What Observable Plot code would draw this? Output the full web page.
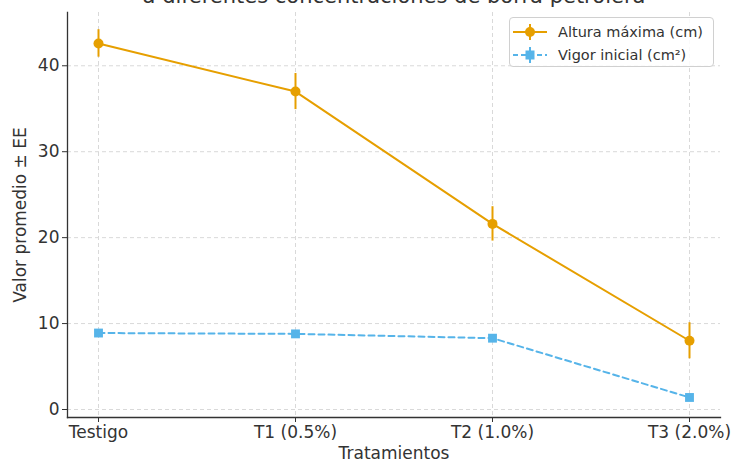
<!DOCTYPE html>
<html>
<head>
<meta charset="utf-8">
<script src="https://cdn.jsdelivr.net/npm/d3@7"></script>
<script src="https://cdn.jsdelivr.net/npm/@observablehq/plot@0.6"></script>
<style>
  html, body { margin: 0; padding: 0; background: #fff; }
  #wrap { position: relative; width: 737px; height: 461px; overflow: hidden; font-family: "DejaVu Sans", sans-serif; }
  #legend { position: absolute; left: 509px; top: 17px; width: 205px; height: 50px; border: 1px solid #d0d0d0; border-radius: 4px; background: rgba(255,255,255,0.85); box-sizing: border-box; }
  .row { position: absolute; left: 3px; height: 20px; display: flex; align-items: center; font-size: 14.5px; color: #333; white-space: nowrap; }
  .row svg { margin-right: 11px; }
</style>
</head>
<body>
<div id="wrap"><div id="legend"></div></div>
<script>
const categories = ["Testigo", "T1 (0.5%)", "T2 (1.0%)", "T3 (2.0%)"];
const alturaMean = [42.6, 37.0, 21.6, 8.0];
const alturaSE = [1.6, 2.1, 2.0, 2.1];
const vigorMean = [8.9, 8.8, 8.3, 1.4];
const vigorSE = [0.2, 0.2, 0.2, 0.15];
const seriesNames = ["Altura máxima (cm)", "Vigor inicial (cm²)"];
const titleLines = ["a diferentes concentraciones de borra petrolera"];
const yTicks = [0, 10, 20, 30, 40];

const orange = "#E69F00";
const blue = "#56B4E9";

const altura = categories.map((c, i) => ({cat: c, mean: alturaMean[i], lo: alturaMean[i] - alturaSE[i], hi: alturaMean[i] + alturaSE[i]}));
const vigor = categories.map((c, i) => ({cat: c, mean: vigorMean[i], lo: vigorMean[i] - vigorSE[i], hi: vigorMean[i] + vigorSE[i]}));

const chart = Plot.plot({
  width: 737,
  height: 461,
  marginTop: 12,
  marginBottom: 44,
  marginLeft: 67,
  marginRight: 17,
  style: {fontFamily: "DejaVu Sans, sans-serif", fontSize: "17px", color: "#333", background: "transparent", overflow: "visible"},
  x: {type: "point", domain: categories, padding: 0.15},
  y: {domain: [-0.93, 46.2]},
  marks: [
    Plot.gridX({stroke: "#d9d9d9", strokeOpacity: 1, strokeDasharray: "4,3", strokeWidth: 1}),
    Plot.gridY({ticks: yTicks, stroke: "#d9d9d9", strokeOpacity: 1, strokeDasharray: "4,3", strokeWidth: 1}),
    Plot.axisY({ticks: yTicks, tickSize: 5, tickPadding: 3, label: "Valor promedio ± EE", labelAnchor: "center", labelArrow: "none", labelOffset: 54, stroke: "#333"}),
    Plot.axisX({tickSize: 5, tickPadding: 3, label: "Tratamientos", labelAnchor: "center", labelArrow: "none", labelOffset: 41, stroke: "#333"}),
    Plot.frame({anchor: "left", stroke: "#333", strokeWidth: 1.3}),
    Plot.frame({anchor: "bottom", stroke: "#333", strokeWidth: 1.3}),
    Plot.line(vigor, {x: "cat", y: "mean", stroke: blue, strokeWidth: 2, strokeDasharray: "6,4"}),
    Plot.ruleX(vigor, {x: "cat", y1: "lo", y2: "hi", stroke: blue, strokeWidth: 2}),
    Plot.dot(vigor, {x: "cat", y: "mean", symbol: "square", r: 5, fill: blue, stroke: "none"}),
    Plot.line(altura, {x: "cat", y: "mean", stroke: orange, strokeWidth: 2}),
    Plot.ruleX(altura, {x: "cat", y1: "lo", y2: "hi", stroke: orange, strokeWidth: 2}),
    Plot.dot(altura, {x: "cat", y: "mean", r: 5, fill: orange, stroke: "none"}),
    Plot.text(titleLines, {text: d => d, frameAnchor: "top", dy: -10, lineAnchor: "bottom", fontSize: 21, fill: "#333"})
  ]
});
document.getElementById("wrap").prepend(chart);

// legend
const legend = document.getElementById("legend");
const legendDefs = [
  {name: seriesNames[0], color: orange, dash: null, symbol: "circle"},
  {name: seriesNames[1], color: blue, dash: "5,3", symbol: "square"}
];
legendDefs.forEach((d, i) => {
  const row = document.createElement("div");
  row.className = "row";
  row.style.top = (4 + i * 23) + "px";
  const svg = d3.create("svg").attr("width", 34).attr("height", 20);
  svg.append("line").attr("x1", 0).attr("x2", 34).attr("y1", 10).attr("y2", 10)
    .attr("stroke", d.color).attr("stroke-width", 2).attr("stroke-dasharray", d.dash);
  svg.append("line").attr("x1", 17).attr("x2", 17).attr("y1", 2).attr("y2", 18)
    .attr("stroke", d.color).attr("stroke-width", 2);
  if (d.symbol === "circle") svg.append("circle").attr("cx", 17).attr("cy", 10).attr("r", 5).attr("fill", d.color);
  else svg.append("rect").attr("x", 12.5).attr("y", 5.5).attr("width", 9).attr("height", 9).attr("fill", d.color);
  row.appendChild(svg.node());
  const span = document.createElement("span");
  span.textContent = d.name;
  row.appendChild(span);
  legend.appendChild(row);
});
</script>
</body>
</html>
